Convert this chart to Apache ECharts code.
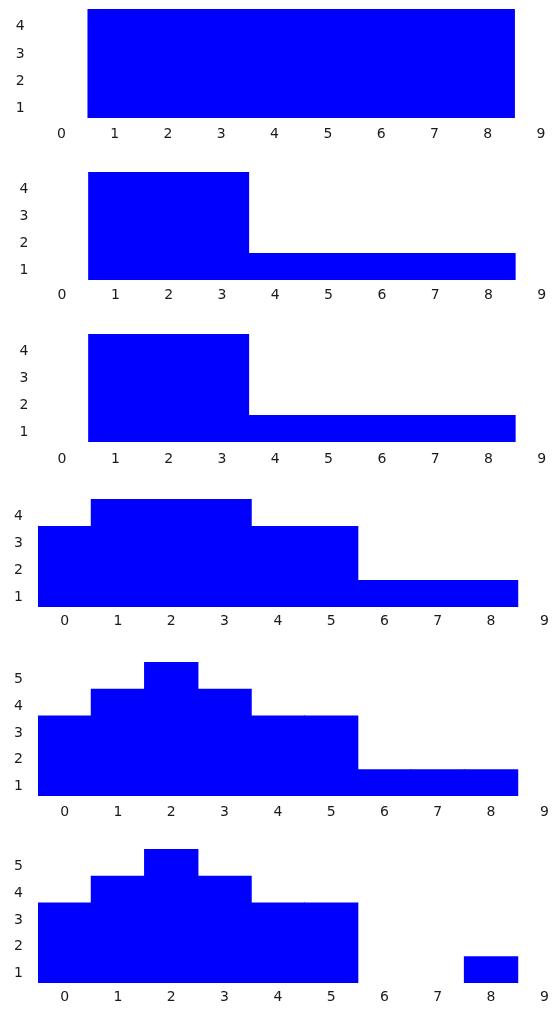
<!DOCTYPE html>
<html>
<head>
<meta charset="utf-8">
<script src="https://cdn.jsdelivr.net/npm/echarts@6/dist/echarts.min.js"></script>
<style>html,body{margin:0;padding:0;background:#fff;overflow:hidden}#c{width:590px;height:1016px}</style>
</head>
<body>
<div id="c"></div>
<script>
var categories = ['0','1','2','3','4','5','6','7','8','9'];
var yLabels4 = ['1','2','3','4'];
var yLabels5 = ['1','2','3','4','5'];
var panel1 = [null,4,4,4,4,4,4,4,4,null];
var panel2 = [null,4,4,4,1,1,1,1,1,null];
var panel3 = [null,4,4,4,1,1,1,1,1,null];
var panel4 = [3,4,4,4,3,3,1,1,1,null];
var panel5 = [3,4,5,4,3,3,1,1,1,null];
var panel6 = [3,4,5,4,3,3,null,null,1,null];

var panels = [
  {data: panel1, ylab: yLabels4, ymax: 4},
  {data: panel2, ylab: yLabels4, ymax: 4},
  {data: panel3, ylab: yLabels4, ymax: 4},
  {data: panel4, ylab: yLabels4, ymax: 4},
  {data: panel5, ylab: yLabels5, ymax: 5},
  {data: panel6, ylab: yLabels5, ymax: 5}
];
var layout = [
  {top: 9,   height: 109, left: 34.7, xm: 9,  ym: 10},
  {top: 172, height: 108, left: 35.4, xm: 8,  ym: 7},
  {top: 334, height: 108, left: 35.4, xm: 10, ym: 7},
  {top: 499, height: 108, left: 38,   xm: 7,  ym: 15},
  {top: 662, height: 134, left: 38,   xm: 9,  ym: 15},
  {top: 849, height: 134, left: 38,   xm: 7,  ym: 15}
];
var font = 'DejaVu Sans';
var grids = [], xAxes = [], yAxes = [], series = [];
panels.forEach(function(p, i){
  var L = layout[i];
  grids.push({left: L.left, top: L.top, width: 533, height: L.height, containLabel: false});
  xAxes.push({type: 'category', gridIndex: i, data: categories,
    axisLine: {show: false}, axisTick: {show: false}, splitLine: {show: false},
    axisLabel: {margin: L.xm, fontSize: 14, color: '#1a1a1a', fontFamily: font, interval: 0}});
});
panels.forEach(function(p, i){
  var L = layout[i];
  yAxes.push({type: 'category', gridIndex: i, data: p.ylab,
    axisLine: {show: false}, axisTick: {show: false}, splitLine: {show: false},
    axisLabel: {margin: L.ym, fontSize: 14, color: '#1a1a1a', fontFamily: font,
      verticalAlign: 'top', lineHeight: 8}});
});
panels.forEach(function(p, i){
  yAxes.push({type: 'value', gridIndex: i, min: 0, max: p.ymax, show: false, splitLine: {show: false}});
  series.push({type: 'bar', xAxisIndex: i, yAxisIndex: 6 + i, data: p.data,
    barWidth: '102%', barGap: '-100%', barCategoryGap: '0%', silent: true, animation: false,
    itemStyle: {color: '#0000ff'}});
});
var chart = echarts.init(document.getElementById('c'));
chart.setOption({animation: false, grid: grids, xAxis: xAxes, yAxis: yAxes, series: series});
</script>
</body>
</html>
